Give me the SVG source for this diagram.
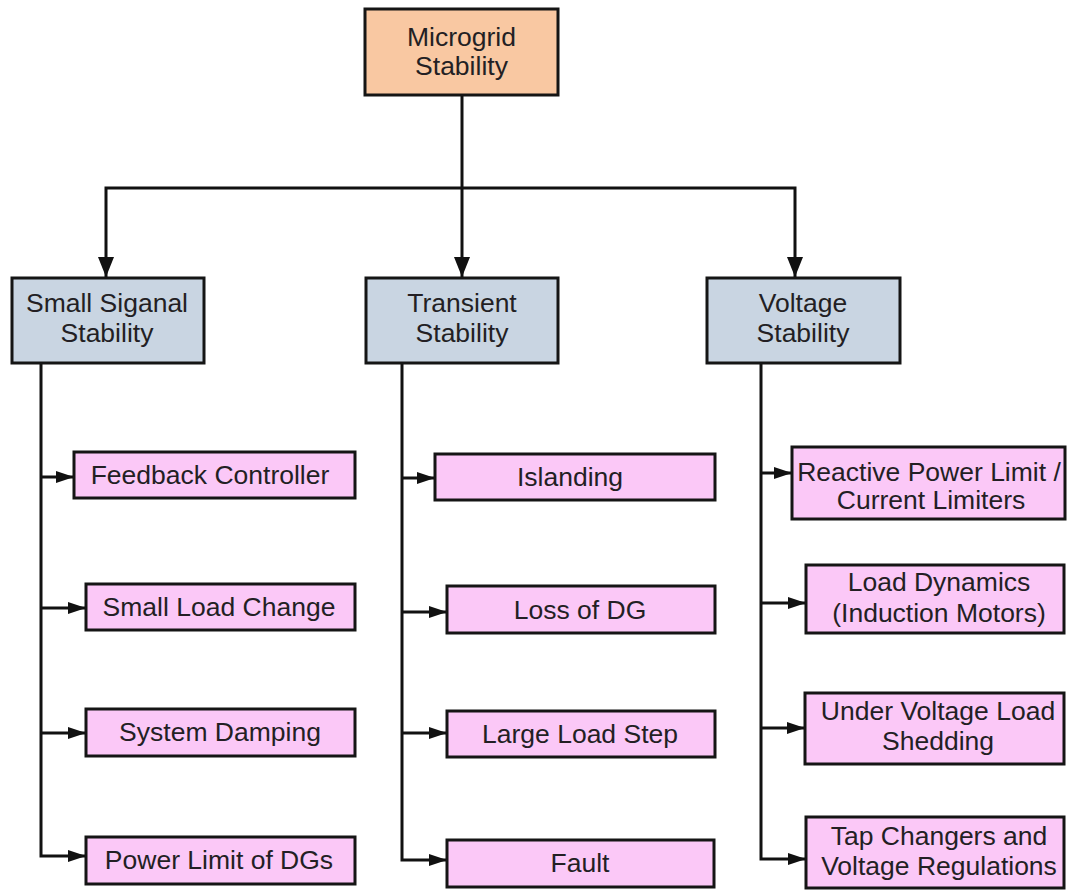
<svg xmlns="http://www.w3.org/2000/svg" width="1068" height="890" viewBox="0 0 1068 890">
  <defs>
    <marker id="arrow-down" markerUnits="userSpaceOnUse" markerWidth="20" markerHeight="16" refX="20" refY="8" orient="auto" viewBox="0 0 20 16">
      <path d="M0,0 L20,8 L0,16 Z" fill="#111"/>
    </marker>
    <marker id="arrow-side" markerUnits="userSpaceOnUse" markerWidth="18" markerHeight="12" refX="18" refY="6" orient="auto" viewBox="0 0 18 12">
      <path d="M0,0 L18,6 L0,12 Z" fill="#111"/>
    </marker>
  </defs>
  <style>
    .box { stroke: #151515; stroke-width: 3; }
    .root { fill: #f9c8a2; }
    .cat { fill: #c9d5e2; }
    .leaf { fill: #fbc8f7; }
    text { font-family: "Liberation Sans", Arial, sans-serif; font-size: 26.5px; fill: #231f24; text-anchor: middle; }
    .wire { fill: none; stroke: #111; stroke-width: 3; }
  </style>

  <rect width="1068" height="890" fill="#ffffff"/>

  <!-- connectors -->
  <g id="connectors">
    <path class="wire" d="M462,95 L462,277" marker-end="url(#arrow-down)"/>
    <path class="wire" d="M462,188 L106,188 L106,277" marker-end="url(#arrow-down)"/>
    <path class="wire" d="M462,188 L795,188 L795,277" marker-end="url(#arrow-down)"/>

    <!-- small signal branch -->
    <path class="wire" d="M41,363 L41,856 L86,856" marker-end="url(#arrow-side)"/>
    <path class="wire" d="M41,477 L74,477" marker-end="url(#arrow-side)"/>
    <path class="wire" d="M41,608 L86,608" marker-end="url(#arrow-side)"/>
    <path class="wire" d="M41,733 L86,733" marker-end="url(#arrow-side)"/>

    <!-- transient branch -->
    <path class="wire" d="M402,363 L402,860 L447,860" marker-end="url(#arrow-side)"/>
    <path class="wire" d="M402,478 L435,478" marker-end="url(#arrow-side)"/>
    <path class="wire" d="M402,612 L447,612" marker-end="url(#arrow-side)"/>
    <path class="wire" d="M402,733 L447,733" marker-end="url(#arrow-side)"/>

    <!-- voltage branch -->
    <path class="wire" d="M761,363 L761,859 L806,859" marker-end="url(#arrow-side)"/>
    <path class="wire" d="M761,473 L792,473" marker-end="url(#arrow-side)"/>
    <path class="wire" d="M761,603 L806,603" marker-end="url(#arrow-side)"/>
    <path class="wire" d="M761,728 L805,728" marker-end="url(#arrow-side)"/>
  </g>

  <!-- root -->
  <g id="microgrid-stability">
    <rect class="box root" x="365" y="9" width="193" height="86"/>
    <text x="461.5" y="46">Microgrid</text>
    <text x="461.5" y="75">Stability</text>
  </g>

  <!-- categories -->
  <g id="small-signal-stability">
    <rect class="box cat" x="12" y="278" width="192" height="85"/>
    <text x="107" y="312">Small Siganal</text>
    <text x="107" y="342">Stability</text>
  </g>
  <g id="transient-stability">
    <rect class="box cat" x="366" y="278" width="192" height="85"/>
    <text x="462" y="312">Transient</text>
    <text x="462" y="342">Stability</text>
  </g>
  <g id="voltage-stability">
    <rect class="box cat" x="707" y="278" width="193" height="85"/>
    <text x="803" y="312">Voltage</text>
    <text x="803" y="342">Stability</text>
  </g>

  <!-- small signal causes -->
  <g id="feedback-controller">
    <rect class="box leaf" x="74" y="452" width="281" height="46"/>
    <text x="210" y="484">Feedback Controller</text>
  </g>
  <g id="small-load-change">
    <rect class="box leaf" x="86" y="584" width="269" height="46"/>
    <text x="219" y="616">Small Load Change</text>
  </g>
  <g id="system-damping">
    <rect class="box leaf" x="86" y="709" width="269" height="47"/>
    <text x="220" y="741">System Damping</text>
  </g>
  <g id="power-limit-of-dgs">
    <rect class="box leaf" x="86" y="837" width="269" height="47"/>
    <text x="219" y="869">Power Limit of DGs</text>
  </g>

  <!-- transient causes -->
  <g id="islanding">
    <rect class="box leaf" x="435" y="454" width="280" height="46"/>
    <text x="570" y="486">Islanding</text>
  </g>
  <g id="loss-of-dg">
    <rect class="box leaf" x="447" y="586" width="268" height="47"/>
    <text x="580" y="619">Loss of DG</text>
  </g>
  <g id="large-load-step">
    <rect class="box leaf" x="447" y="711" width="268" height="46"/>
    <text x="580" y="743">Large Load Step</text>
  </g>
  <g id="fault">
    <rect class="box leaf" x="447" y="840" width="267" height="47"/>
    <text x="580" y="872">Fault</text>
  </g>

  <!-- voltage causes -->
  <g id="reactive-power-limit">
    <rect class="box leaf" x="792" y="447" width="273" height="72"/>
    <text x="929" y="481">Reactive Power Limit /</text>
    <text x="931" y="509">Current Limiters</text>
  </g>
  <g id="load-dynamics">
    <rect class="box leaf" x="806" y="565" width="258" height="68"/>
    <text x="939" y="591">Load Dynamics</text>
    <text x="939" y="622">(Induction Motors)</text>
  </g>
  <g id="under-voltage-load-shedding">
    <rect class="box leaf" x="805" y="693" width="259" height="71"/>
    <text x="938" y="720">Under Voltage Load</text>
    <text x="938" y="750">Shedding</text>
  </g>
  <g id="tap-changers">
    <rect class="box leaf" x="806" y="817" width="258" height="71"/>
    <text x="939" y="845">Tap Changers and</text>
    <text x="939" y="875">Voltage Regulations</text>
  </g>
</svg>
